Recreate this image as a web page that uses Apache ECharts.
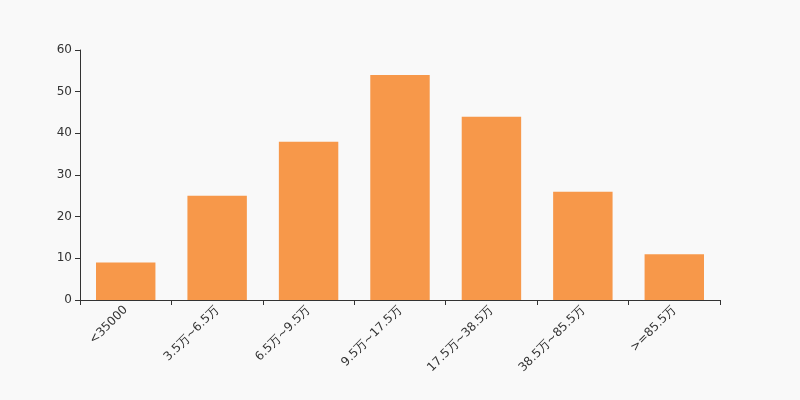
<!DOCTYPE html>
<html><head><meta charset="utf-8">
<script src="https://cdn.jsdelivr.net/npm/echarts@6/dist/echarts.min.js"></script>
<style>html,body{margin:0;padding:0;background:#f9f9f9}#c{width:800px;height:400px}</style>
</head><body><div id="c"></div>
<script>
var categories = ['<35000','3.5万~6.5万','6.5万~9.5万','9.5万~17.5万','17.5万~38.5万','38.5万~85.5万','>=85.5万'];
var values = [9, 25, 38, 54, 44, 26, 11];
var chart = echarts.init(document.getElementById('c'), null, {renderer:'canvas'});
chart.setOption({
  backgroundColor: '#f9f9f9',
  animation: false,
  textStyle: {fontFamily: 'DejaVu Sans'},
  grid: {left: 80, right: 80, top: 50, bottom: 100},
  xAxis: {
    type: 'category', data: categories,
    axisLine: {lineStyle: {color: '#333'}},
    axisTick: {show: true, alignWithLabel: false, lineStyle: {color: '#333'}},
    axisLabel: {rotate: 45, color: '#333', fontSize: 12, interval: 0, fontFamily: 'DejaVu Sans'}
  },
  yAxis: {
    type: 'value', min: 0, max: 60, interval: 10,
    axisLine: {show: true, lineStyle: {color: '#333'}},
    axisTick: {show: true, lineStyle: {color: '#333'}},
    axisLabel: {color: '#333', fontSize: 12, fontFamily: 'DejaVu Sans'},
    splitLine: {show: false}
  },
  series: [{
    type: 'bar', data: values, barCategoryGap: '35%',
    itemStyle: {color: '#f7984a'}
  }]
});
</script></body></html>
